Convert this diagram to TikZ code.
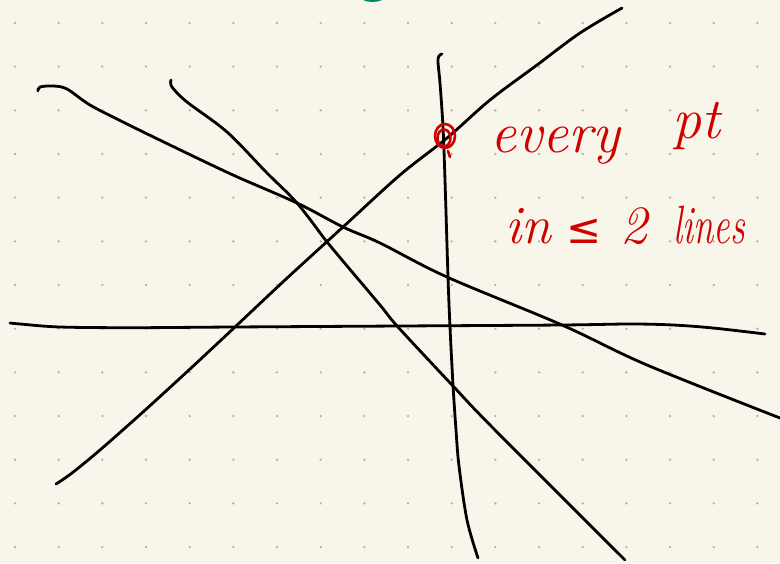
\documentclass[tikz,border=0pt]{standalone}
\usepackage{fontspec}
\usepackage{graphicx}
\newfontfamily\symfnt{DejaVu Sans}
\definecolor{paper}{RGB}{248,246,234}
\definecolor{dotc}{RGB}{178,178,170}
\definecolor{ink}{RGB}{0,0,0}
\definecolor{redink}{RGB}{208,0,0}
\definecolor{greenink}{RGB}{0,135,95}
\tikzset{
  stroke/.style={draw=ink, line width=2.8pt, line cap=round, line join=round},
  redstroke/.style={draw=redink, line width=2.6pt, line cap=round, line join=round},
  note/.style={text=redink, font=\itshape, inner sep=0pt, anchor=base west},
}
\begin{document}
\begin{tikzpicture}[x=1pt,y=-1pt]
\fill[paper] (0,0) rectangle (780,563);
\useasboundingbox (0,0) rectangle (780,563);
% dot grid
\foreach \i in {0,...,17}{
  \foreach \j in {0,...,12}{
    \fill[dotc] ({15+43.67*\i},{23+43.67*\j}) circle (1.3pt);
  }
}
% green mark at top edge
\fill[greenink] (363,0) .. controls (368,2.6) and (377,2.6) .. (382,0) -- cycle;
% line A
\draw[stroke] plot[smooth, tension=0.55] coordinates {(38,91) (40,87) (53,86) (67,89) (90,105) (123,122) (170,145) (233,175) (297,203) (343,227) (380,243) (447,277) (562,325) (647,365) (780,418)};
% line B
\draw[stroke] plot[smooth, tension=0.55] coordinates {(171,80) (172,87) (187,102) (227,132) (267,173) (297,203) (327,242) (342,260) (380,305) (398,327) (453,386) (493,428) (625,560)};
% line C
\draw[stroke] plot[smooth, tension=0.55] coordinates {(56,484) (72,473) (100,450) (143,412) (190,369) (235,327) (285,280) (343,227) (400,175) (447,138) (490,100) (537,65) (580,33) (622,8)};
% line D
\draw[stroke] plot[smooth, tension=0.55] coordinates {(442,54) (438,59) (440,83) (443,127) (445,180) (448,277) (450,327) (453,385) (456,430) (459,466) (467,520) (478,558)};
% line E
\draw[stroke] plot[smooth, tension=0.55] coordinates {(10,323) (20,324) (60,327) (133,327.7) (233,327) (400,326) (562,325) (630,324) (673,325) (713,328) (765,334)};
% red scribble circle
\draw[redstroke] (445,136) ellipse (10pt and 12pt);
\draw[redstroke] (444,138) ellipse (6.5pt and 8.5pt);
\draw[redstroke] (448,151) -- (450,157);
% notes
\node[note, font=\fontsize{58}{64}\selectfont\itshape] (t1) at (490,152)
  {\makebox[182pt][l]{every}\raisebox{14pt}{pt}};
\node[note, font=\fontsize{54}{60}\selectfont\itshape] (t2) at (505,243)
  {\makebox[61pt][l]{in}\makebox[54pt][l]{\fontsize{42}{48}\symfnt ≤}\makebox[53pt][l]{2}\scalebox{0.68}[1]{lines}};
\end{tikzpicture}
\end{document}
